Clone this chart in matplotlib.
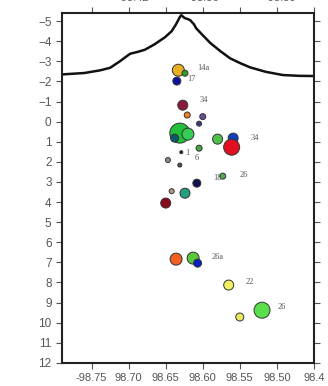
import matplotlib
matplotlib.use('Agg')
import matplotlib.pyplot as plt

plt.rcParams['font.family'] = ['Liberation Sans', 'DejaVu Sans']

# topography profile across the section (lon, elevation as negative depth)
topo_lon = [-98.790, -98.760, -98.739, -98.725, -98.712, -98.698, -98.688,
            -98.678, -98.665, -98.651, -98.642, -98.636, -98.631, -98.629,
            -98.626, -98.624, -98.620, -98.617, -98.612, -98.609, -98.600,
            -98.590, -98.576, -98.563, -98.550, -98.536, -98.515, -98.492,
            -98.470, -98.450]
topo_z = [-2.35, -2.42, -2.55, -2.68, -3.0, -3.38, -3.47, -3.58, -3.85, -4.2,
          -4.5, -4.85, -5.2, -5.3, -5.2, -5.15, -5.1, -5.05, -4.85, -4.65,
          -4.3, -3.92, -3.5, -3.15, -2.92, -2.7, -2.48, -2.32, -2.28, -2.27]

# events: longitude, depth (km), magnitude, colour
ev_lon = [-98.633, -98.624, -98.635, -98.627, -98.621, -98.600, -98.605,
          -98.631, -98.620, -98.638, -98.580, -98.559, -98.561, -98.605,
          -98.629, -98.647, -98.631, -98.573, -98.608, -98.642, -98.624,
          -98.650, -98.636, -98.613, -98.607, -98.565, -98.550, -98.520]
ev_depth = [-2.56, -2.41, -2.02, -0.82, -0.33, -0.25, 0.10, 0.57, 0.62, 0.82,
            0.87, 0.82, 1.27, 1.32, 1.52, 1.91, 2.16, 2.71, 3.06, 3.46, 3.56,
            4.05, 6.84, 6.79, 7.04, 8.13, 9.72, 9.38]
ev_mag = [2.2, 1.6, 1.8, 2.0, 1.6, 1.6, 1.5, 3.0, 2.2, 1.8, 2.0, 2.0, 2.6,
          1.6, 1.3, 1.5, 1.4, 1.6, 1.8, 1.5, 2.0, 2.0, 2.2, 2.2, 1.8, 2.0,
          1.8, 2.6]
ev_color = ['#e8b020', '#2ca02c', '#1010a0', '#8b1a3a', '#f08020', '#6a4c9c',
            '#3a3a8a', '#22c03a', '#33cc55', '#0a5a6a', '#4cc24c', '#1040c0',
            '#e01020', '#3aaa3a', '#202020', '#9a8a80', '#505050', '#4caf50',
            '#101050', '#b09a8a', '#22a080', '#8a0a1a', '#f06020', '#5ac83a',
            '#0a20c0', '#f0f060', '#e8e860', '#5ae04a']

# event labels
lab_text = ['14a', '17', '34', '34', '1', '6', '18', '26', '26a', '22', '26']
lab_lon = [-98.608, -98.621, -98.604, -98.536, -98.624, -98.611, -98.586,
           -98.550, -98.588, -98.542, -98.499]
lab_depth = [-2.66, -2.12, -1.07, 0.82, 1.57, 1.81, 2.81, 2.66, 6.74, 8.0, 9.23]

xticks = [-98.75, -98.70, -98.65, -98.60, -98.55, -98.50, -98.45]
xtick_labels = ['-98.75', '98.70', '98.65', '98.60', '98.55', '98.50', '98.4']
yticks = list(range(-5, 13))

fig = plt.figure(figsize=(3.28, 3.86), dpi=100)
ax = fig.add_axes([0.189, 0.06, 0.768, 0.906])

ax.plot(topo_lon, topo_z, color='#111111', lw=1.8, zorder=2)

sizes = [(7.2 * (m - 1)) ** 2 for m in ev_mag]
ax.scatter(ev_lon, ev_depth, s=sizes, c=ev_color, edgecolors='#333333',
           linewidths=0.7, zorder=3)

for t, x, y in zip(lab_text, lab_lon, lab_depth):
    ax.text(x, y, t, fontsize=6, color='#555555', family='Liberation Serif',
            ha='left', va='center', zorder=4)

ax.set_xlim(-98.79, -98.45)
ax.set_ylim(12, -5.4)
ax.set_xticks(xticks)
ax.set_xticklabels(xtick_labels)
ax.set_yticks(yticks)

ax.tick_params(axis='both', direction='out', length=4, width=0.8,
               labelsize=8.5, colors='#555555', labelcolor='#555555',
               top=True, right=True)
ax.tick_params(axis='x', labelsize=8, pad=3)
for s in ax.spines.values():
    s.set_linewidth(1.5)
    s.set_color('#222222')

# clipped labels of the upper axis
for x, t in [(0.405, '-98.42'), (0.62, '-98.36'), (0.855, '-98.30')]:
    fig.text(x, 1.006, t, fontsize=8, color='#555555', ha='center', va='center')

fig.savefig('out.png', dpi=100)
